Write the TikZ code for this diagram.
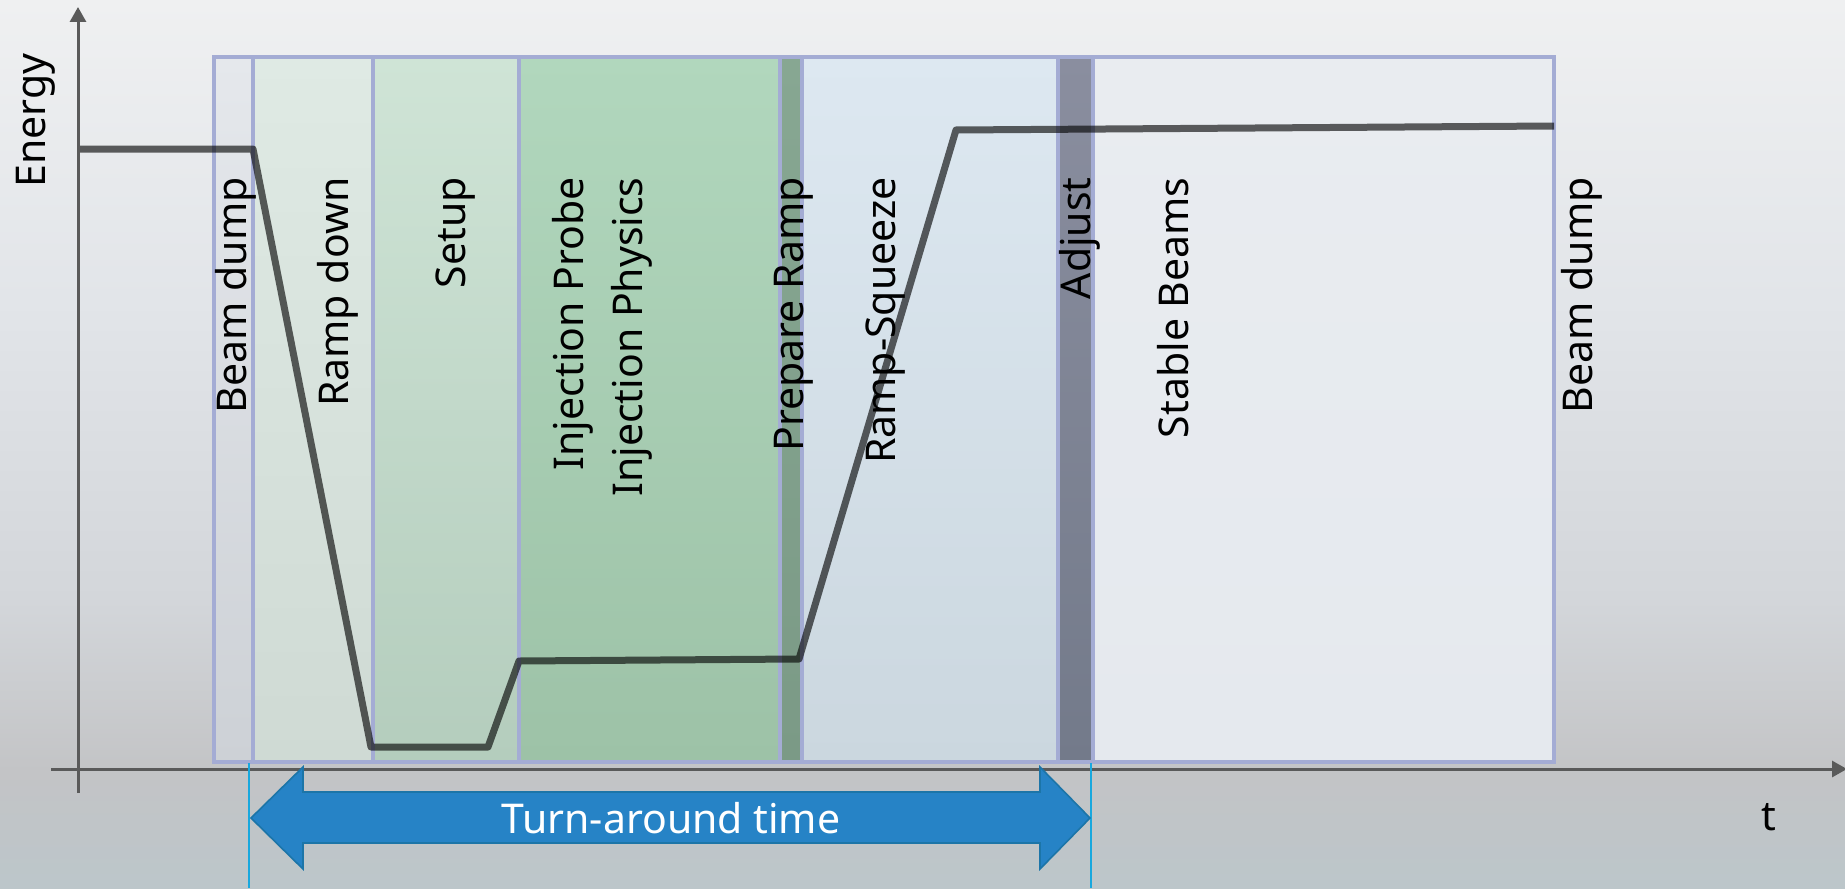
\documentclass[tikz,border=0pt]{standalone}
\usepackage{fontspec}
\setmainfont{Noto Sans}
\usetikzlibrary{arrows.meta}
\definecolor{bgA}{HTML}{EFF0F1}
\definecolor{bgB}{HTML}{E2E5E9}
\definecolor{bgC}{HTML}{D3D6DA}
\definecolor{bgD}{HTML}{C3C4C6}
\definecolor{bgE}{HTML}{BCC6CA}
\definecolor{frameblue}{HTML}{A4ACD4}
\definecolor{axisgray}{HTML}{5A5A5A}
\definecolor{arrowblue}{HTML}{2683C6}
\definecolor{arrowedge}{HTML}{1C75A8}
\definecolor{cyanline}{HTML}{18A8DE}
\definecolor{bdT}{HTML}{E5E8EC}\definecolor{bdB}{HTML}{CDD1D6}
\definecolor{rdT}{HTML}{DFEAE4}\definecolor{rdB}{HTML}{CFDAD4}
\definecolor{suT}{HTML}{CFE4D6}\definecolor{suB}{HTML}{B4CDBD}
\definecolor{ipT}{HTML}{B1D7BD}\definecolor{ipB}{HTML}{9DC2A7}
\definecolor{prT}{HTML}{87A792}\definecolor{prB}{HTML}{7B9A86}
\definecolor{rsT}{HTML}{DDE8F1}\definecolor{rsB}{HTML}{CBD7DF}
\definecolor{adT}{HTML}{8A8E9F}\definecolor{adB}{HTML}{737A8A}
\definecolor{sbT}{HTML}{E9ECF0}\definecolor{sbB}{HTML}{E5E9EE}
\pgfdeclareverticalshading{bgshade}{100bp}{color(0bp)=(bgE); color(25bp)=(bgE); color(31.6bp)=(bgD); color(41.2bp)=(bgC); color(58.1bp)=(bgB); color(75bp)=(bgA); color(100bp)=(bgA)}
\tikzset{
  band/.style={draw=frameblue, line width=1.6pt},
  curve/.style={draw=black, draw opacity=0.62, line width=3.5pt, line join=round},
  axisline/.style={draw=axisgray, line width=1.5pt, -{Triangle[length=7.5pt,width=8pt]}},
  lbl/.style={rotate=90, anchor=base east, inner sep=0pt, font=\fontsize{20.5}{25}\selectfont},
  cyanmark/.style={draw=cyanline, line width=1pt},
}
\begin{document}
\begin{tikzpicture}[x=0.5pt,y=-0.5pt]
\useasboundingbox (0,0) rectangle (1845,888);
\shade[shading=bgshade] (0,0) rectangle (1845,888);
% bands
\path[band, top color=bdT, bottom color=bdB] (214,57) rectangle (253,762);
\path[band, top color=rdT, bottom color=rdB] (253,57) rectangle (373,762);
\path[band, top color=suT, bottom color=suB] (373,57) rectangle (519,762);
\path[band, top color=ipT, bottom color=ipB] (519,57) rectangle (780,762);
\path[band, top color=prT, bottom color=prB] (780,57) rectangle (802,762);
\path[band, top color=rsT, bottom color=rsB] (802,57) rectangle (1058,762);
\path[band, top color=adT, bottom color=adB] (1058,57) rectangle (1093,762);
\path[band, top color=sbT, bottom color=sbB] (1093,57) rectangle (1554,762);
% energy curve
\coordinate (e1) at (80,149);
\coordinate (e2) at (253,149);
\coordinate (e3) at (371,747);
\coordinate (e4) at (488,747);
\coordinate (e5) at (519,661);
\coordinate (e6) at (799,659);
\coordinate (e7) at (956,130);
\coordinate (e8) at (1554,126);
\draw[curve] (e1) -- (e2) -- (e3) -- (e4) -- (e5) -- (e6) -- (e7) -- (e8);
% axes
\draw[axisline] (78,793) -- (78,7);
\draw[axisline] (51,769) -- (1847,769);
% labels
\node[lbl] (bd1) at (246,177) {Beam dump};
\node[lbl] (rd) at (348,177) {Ramp down};
\node[lbl] (su) at (465,177) {Setup};
\node[lbl] (ip1) at (583,177) {Injection Probe};
\node[lbl] (ip2) at (642,177) {Injection Physics};
\node[lbl] (pr) at (803,177) {Prepare Ramp};
\node[lbl] (rs) at (895,177) {Ramp-Squeeze};
\node[lbl] (adj) at (1090,177) {Adjust};
\node[lbl] (sb) at (1188,177) {Stable Beams};
\node[lbl] (bd2) at (1592,177) {Beam dump};
\node[lbl] (en) at (45,53) {Energy};
\node[anchor=base, inner sep=0pt, font=\fontsize{20.5}{25}\selectfont] (tl) at (1769,830) {t};
% cyan markers
\draw[cyanmark] (249,763) -- (249,888);
\draw[cyanmark] (1091,763) -- (1091,888);
% turn-around arrow
\filldraw[fill=arrowblue, draw=arrowedge, line width=0.8pt, line join=miter]
  (251,818) -- (303,767) -- (303,792) -- (1040,792) -- (1040,767) -- (1090,818)
  -- (1040,869) -- (1040,843) -- (303,843) -- (303,869) -- cycle;
\node[text=white, inner sep=0pt, font=\fontsize{20.5}{25}\selectfont] (tat) at (671,818) {Turn-around time};
\end{tikzpicture}
\end{document}
